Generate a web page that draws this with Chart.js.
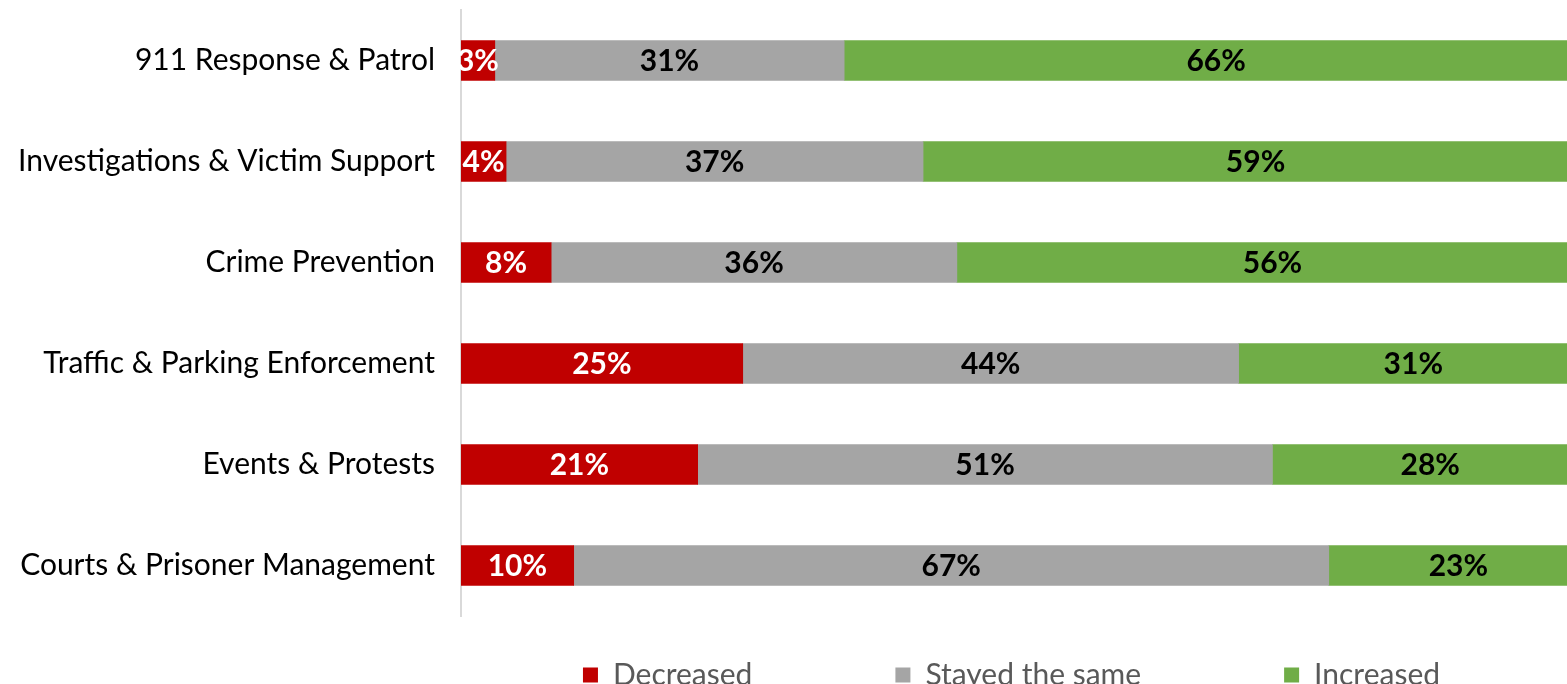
<!DOCTYPE html>
<html>
<head>
<meta charset="utf-8">
<script src="https://cdn.jsdelivr.net/npm/chart.js@4/dist/chart.umd.min.js"></script>
<style>
  html, body { margin: 0; padding: 0; background: #fff; overflow: hidden; }
  #wrap { width: 1588px; height: 700px; position: relative; }
</style>
</head>
<body>
<div id="wrap"><canvas id="c" width="1588" height="700"></canvas></div>
<script>
// Service areas and the share of respondents for each answer (percent)
const categories = [
  "911 Response & Patrol",
  "Investigations & Victim Support",
  "Crime Prevention",
  "Traffic & Parking Enforcement",
  "Events & Protests",
  "Courts & Prisoner Management"
];
const decreased = [3, 4, 8, 25, 21, 10];
const stayedSame = [31, 37, 36, 44, 51, 67];
const increased = [66, 59, 56, 31, 28, 23];
const seriesNames = ["Decreased", "Stayed the same", "Increased"];

const FONT = "Lato, 'Open Sans', sans-serif";
// The wide gap between legend entries also pads the legend vertically,
// so the plot is allowed to run into that empty band and the legend is lifted back.
const LEGEND_GAP = 143;
const LEGEND_LIFT = 99;
const LEGEND_SHIFT = -13;

// Writes each segment's percentage in the middle of its bar piece
const valueLabels = {
  id: "valueLabels",
  afterDatasetsDraw(chart) {
    const ctx = chart.ctx;
    ctx.save();
    ctx.font = "bold 30px " + FONT;
    ctx.textAlign = "center";
    ctx.textBaseline = "middle";
    chart.data.datasets.forEach((ds, di) => {
      const meta = chart.getDatasetMeta(di);
      meta.data.forEach((bar, i) => {
        const v = ds.data[i];
        ctx.fillStyle = ds.labelColor;
        ctx.fillText(v + "%", (bar.x + bar.base) / 2, bar.y + 1);
      });
    });
    ctx.restore();
  }
};

// Centres the legend row under the plot area and lifts it into place
const legendUnderPlot = {
  id: "legendUnderPlot",
  afterLayout(chart) {
    const lg = chart.legend;
    if (!lg) return;
    const area = chart.chartArea;
    const dx = (area.left + area.right) / 2 + LEGEND_SHIFT - (lg.left + lg.right) / 2;
    lg.left += dx;
    lg.right += dx;
    lg.top -= LEGEND_LIFT;
    lg.bottom -= LEGEND_LIFT;
  }
};

new Chart(document.getElementById("c"), {
  type: "bar",
  data: {
    labels: categories,
    datasets: [
      { label: seriesNames[0], data: decreased, backgroundColor: "#C00000", labelColor: "#ffffff" },
      { label: seriesNames[1], data: stayedSame, backgroundColor: "#A5A5A5", labelColor: "#000000" },
      { label: seriesNames[2], data: increased, backgroundColor: "#70AD47", labelColor: "#000000" }
    ]
  },
  options: {
    indexAxis: "y",
    responsive: false,
    animation: false,
    devicePixelRatio: 1,
    layout: { padding: { top: 10, right: 0, left: 0, bottom: -LEGEND_LIFT } },
    datasets: { bar: { barThickness: 40, borderWidth: 0 } },
    scales: {
      x: {
        stacked: true,
        min: 0,
        max: 100,
        display: false
      },
      y: {
        stacked: true,
        afterFit(scale) {
          scale.width = 461;
          scale.paddingTop = 0;
          scale.paddingBottom = 0;
        },
        grid: { display: false, drawTicks: false },
        border: { display: true, color: "#D9D9D9", width: 2 },
        ticks: {
          padding: 26,
          color: "#000000",
          font: { family: FONT, size: 30 }
        }
      }
    },
    plugins: {
      tooltip: { enabled: false },
      legend: {
        position: "bottom",
        labels: {
          boxWidth: 15,
          boxHeight: 15,
          padding: LEGEND_GAP,
          color: "#595959",
          font: { family: FONT, size: 30 }
        }
      }
    }
  },
  plugins: [valueLabels, legendUnderPlot]
});
</script>
</body>
</html>
